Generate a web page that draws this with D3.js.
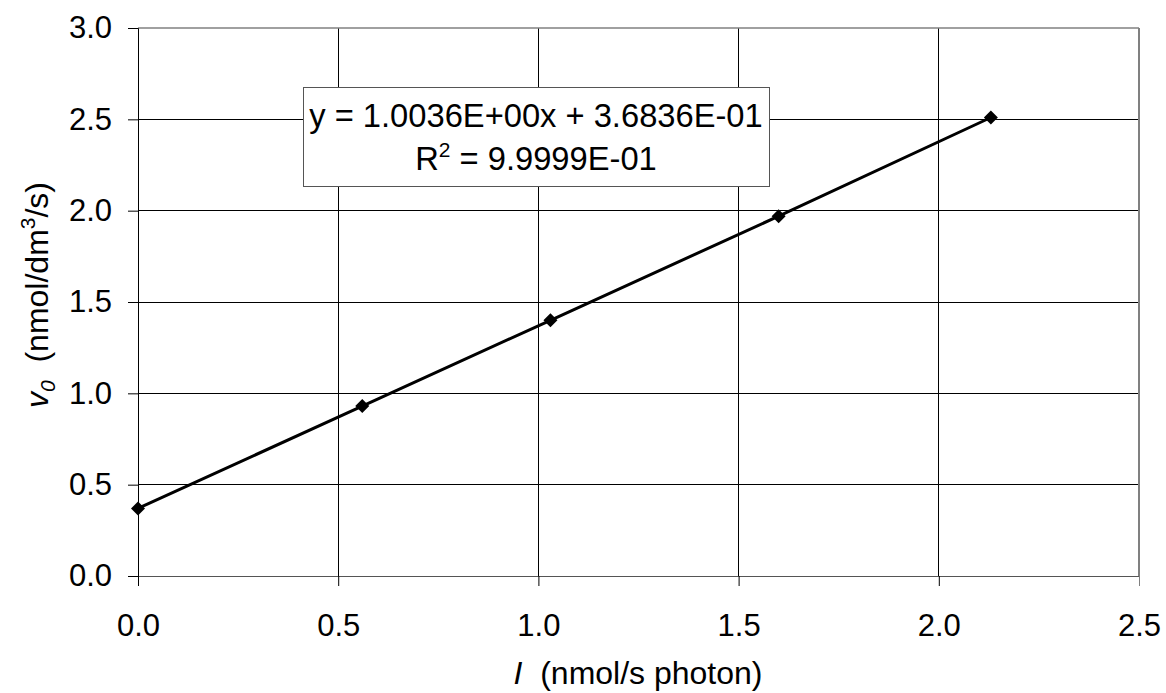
<!DOCTYPE html>
<html><head><meta charset="utf-8">
<script src="https://cdn.jsdelivr.net/npm/d3@7"></script>
<style>body{margin:0;background:#fff}svg text{font-family:"Liberation Sans",Arial,sans-serif;fill:#000}</style>
</head><body>
<svg id="c" width="1166" height="693"></svg>
<script>
const xValues = [0.0, 0.56, 1.03, 1.60, 2.13];
const yValues = [0.37, 0.93, 1.40, 1.97, 2.51];
const xTicks = [0.0, 0.5, 1.0, 1.5, 2.0, 2.5];
const yTicks = [0.0, 0.5, 1.0, 1.5, 2.0, 2.5, 3.0];
const eqLines = ["y = 1.0036E+00x + 3.6836E-01"];

const svg = d3.select("#c");
const L = 138, R = 1139, T = 28, B = 576;
const x = d3.scaleLinear().domain([0, 2.5]).range([L, R]);
const y = d3.scaleLinear().domain([0, 3]).range([B, T]);

// grid
svg.append("g").selectAll("line").data(xTicks.slice(1, -1)).join("line")
  .attr("x1", d => x(d)).attr("x2", d => x(d)).attr("y1", T).attr("y2", B)
  .attr("stroke", "#000").attr("stroke-width", 1).attr("shape-rendering", "crispEdges");
svg.append("g").selectAll("line").data(yTicks.slice(1, -1)).join("line")
  .attr("x1", L).attr("x2", R).attr("y1", d => y(d)).attr("y2", d => y(d))
  .attr("stroke", "#000").attr("stroke-width", 1).attr("shape-rendering", "crispEdges");
// border top/right gray
svg.append("line").attr("x1", L).attr("x2", R).attr("y1", T).attr("y2", T).attr("stroke", "#808080").attr("stroke-width", 1.5);
svg.append("line").attr("x1", R).attr("x2", R).attr("y1", T).attr("y2", B).attr("stroke", "#808080").attr("stroke-width", 2);

// axes
const ya = svg.append("g").attr("transform", `translate(${L},0)`)
  .call(d3.axisLeft(y).tickValues(yTicks).tickFormat(d3.format(".1f")).tickSize(10).tickPadding(16));
const xa = svg.append("g").attr("transform", `translate(0,${B})`)
  .call(d3.axisBottom(x).tickValues(xTicks).tickFormat(d3.format(".1f")).tickSize(10).tickPadding(28));
[ya, xa].forEach(g => {
  g.attr("font-size", 31).attr("font-family", "Liberation Sans, Arial, sans-serif");
  g.select(".domain").attr("stroke", "#000").attr("stroke-width", 1);
  g.selectAll(".tick line").attr("stroke", "#000");
  g.selectAll(".tick text").attr("fill", "#000");
});
xa.select(".domain").attr("stroke", "#555");
xa.selectAll(".tick").filter(d => d === 2.5).select("line").attr("stroke", "#808080");

// line
const pts = xValues.map((v, i) => [v, yValues[i]]);
svg.append("path").datum(pts)
  .attr("d", d3.line().x(d => x(d[0])).y(d => y(d[1])))
  .attr("fill", "none").attr("stroke", "#000").attr("stroke-width", 3);
svg.append("g").selectAll("path").data(pts).join("path")
  .attr("transform", d => `translate(${x(d[0])},${y(d[1])})`)
  .attr("d", "M0,-7L7,0L0,7L-7,0Z").attr("fill", "#000");

// equation box
svg.append("rect").attr("x", 303.5).attr("y", 87.5).attr("width", 466).attr("height", 99)
  .attr("fill", "#fff").attr("stroke", "#555").attr("stroke-width", 1);
svg.append("text").attr("x", 536).attr("y", 127).attr("text-anchor", "middle").attr("font-size", 32.7).text(eqLines[0]);
const t2 = svg.append("text").attr("x", 536).attr("y", 170).attr("text-anchor", "middle").attr("font-size", 32.7);
t2.append("tspan").text("R");
t2.append("tspan").attr("font-size", 21).attr("dy", -13).text("2");
t2.append("tspan").attr("dy", 13).text(" = 9.9999E-01");

// axis titles
const xt = svg.append("text").attr("x", 638).attr("y", 684).attr("text-anchor", "middle").attr("font-size", 32);
xt.append("tspan").attr("font-style", "italic").text("I");
xt.append("tspan").text("\u00a0\u00a0(nmol/s photon)");
const yt = svg.append("text").attr("transform", "translate(48,295) rotate(-90)").attr("text-anchor", "middle").attr("font-size", 32);
yt.append("tspan").attr("font-style", "italic").text("v");
yt.append("tspan").attr("font-style", "italic").attr("font-size", 21).attr("dy", 7).text("0");
yt.append("tspan").attr("dy", -7).text("\u00a0\u00a0(nmol/dm");
yt.append("tspan").attr("font-size", 21).attr("dy", -13).text("3");
yt.append("tspan").attr("dy", 13).text("/s)");
</script>
</body></html>
